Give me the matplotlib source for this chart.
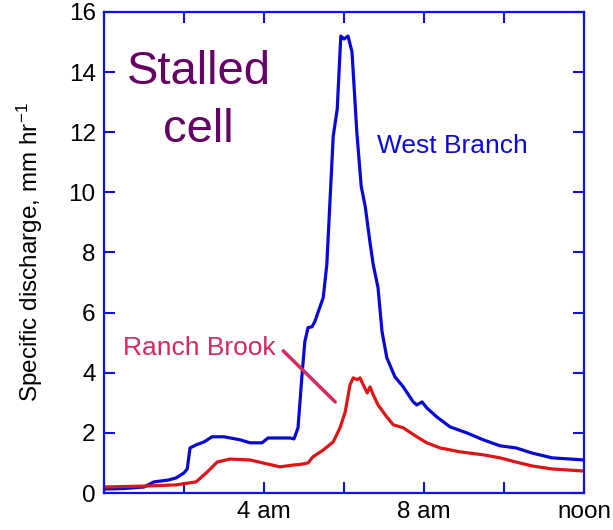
import matplotlib
matplotlib.use("Agg")
import matplotlib.pyplot as plt

plt.rcParams['font.family'] = ['Liberation Sans', 'DejaVu Sans']
plt.rcParams['mathtext.default'] = 'regular'

# West Branch (hours after midnight, mm/hr)
wb_t = [0, 0.5, 1.0, 1.25, 1.6, 1.8, 2.0, 2.08, 2.15, 2.3, 2.5, 2.7, 3.0, 3.4, 3.65,
        3.95, 4.1, 4.3, 4.65, 4.75, 4.85, 4.95, 5.02, 5.1, 5.2, 5.27, 5.48, 5.57, 5.73,
        5.83, 5.92, 6.0, 6.1, 6.2, 6.32, 6.43, 6.53, 6.65, 6.73, 6.85, 6.95, 7.07, 7.27,
        7.48, 7.73, 7.82, 7.95, 8.07, 8.32, 8.65, 9.07, 9.48, 9.9, 10.3, 10.7, 11.2, 12.0]
wb_v = [0.13, 0.15, 0.2, 0.37, 0.43, 0.5, 0.67, 0.8, 1.5, 1.6, 1.7, 1.87, 1.87, 1.77, 1.67,
        1.67, 1.83, 1.83, 1.83, 1.8, 2.17, 3.93, 5.03, 5.5, 5.53, 5.7, 6.5, 7.6, 11.87,
        12.77, 15.2, 15.1, 15.2, 14.67, 12.0, 10.2, 9.53, 8.33, 7.6, 6.83, 5.37, 4.5, 3.87,
        3.53, 3.03, 2.93, 3.03, 2.83, 2.53, 2.2, 2.0, 1.77, 1.57, 1.5, 1.33, 1.17, 1.1]

# Ranch Brook
rb_t = [0, 1.0, 1.8, 2.3, 2.58, 2.83, 3.15, 3.65, 4.07, 4.4, 4.73, 4.9, 5.1, 5.22, 5.48,
        5.73, 5.9, 6.03, 6.15, 6.23, 6.33, 6.4, 6.48, 6.58, 6.65, 6.73, 6.85, 7.07, 7.23,
        7.48, 7.82, 8.07, 8.4, 8.9, 9.48, 9.9, 10.3, 10.7, 11.2, 12.0]
rb_v = [0.2, 0.23, 0.27, 0.37, 0.7, 1.03, 1.13, 1.1, 0.97, 0.87, 0.93, 0.95, 1.0, 1.2, 1.43,
        1.7, 2.17, 2.7, 3.6, 3.83, 3.77, 3.83, 3.6, 3.33, 3.53, 3.27, 2.93, 2.53, 2.27,
        2.17, 1.87, 1.67, 1.5, 1.37, 1.27, 1.17, 1.03, 0.9, 0.8, 0.73]

x_ticks = [0, 2, 4, 6, 8, 10, 12]
x_tick_labels = ['', '', '4 am', '', '8 am', '', 'noon']
y_ticks = [0, 2, 4, 6, 8, 10, 12, 14, 16]

blue_line = '#0808D8'
red_line = '#E01414'
spine_blue = '#1010E8'

fig = plt.figure(figsize=(6.13, 5.30), dpi=100)
ax = fig.add_axes([0.1697, 0.0698, 0.783, 0.9076])

ax.plot(wb_t, wb_v, color=blue_line, lw=2.3, solid_joinstyle='round')
ax.plot(rb_t, rb_v, color=red_line, lw=2.3, solid_joinstyle='round')

ax.set_xlim(0, 12)
ax.set_ylim(0, 16)
ax.set_xticks(x_ticks)
ax.set_xticklabels(x_tick_labels)
ax.set_yticks(y_ticks)

for s in ax.spines.values():
    s.set_color(spine_blue)
    s.set_linewidth(1.6)
ax.tick_params(axis='both', direction='in', length=8, width=1.5, color=spine_blue,
               labelcolor='black', labelsize=17.5, top=True, right=True, pad=6)

ax.set_ylabel('Specific discharge, mm hr$^{-1}$', fontsize=17.5, labelpad=17)

ax.text(2.36, 13.6, 'Stalled', fontsize=34, color='#660066', ha='center', va='baseline')
ax.text(2.36, 11.67, 'cell', fontsize=34, color='#660066', ha='center', va='baseline')
ax.text(8.7, 11.3, 'West Branch', fontsize=19, color='#0A0ADC', ha='center', va='baseline')
ax.text(2.375, 4.6, 'Ranch Brook', fontsize=19, color='#D8285E', ha='center', va='baseline')
ax.annotate('', xy=(5.78, 3.03), xytext=(4.48, 4.73),
            arrowprops=dict(arrowstyle='-', color='#D8285E', lw=2.5, shrinkA=0, shrinkB=0))

fig.savefig('out.png', dpi=100)
